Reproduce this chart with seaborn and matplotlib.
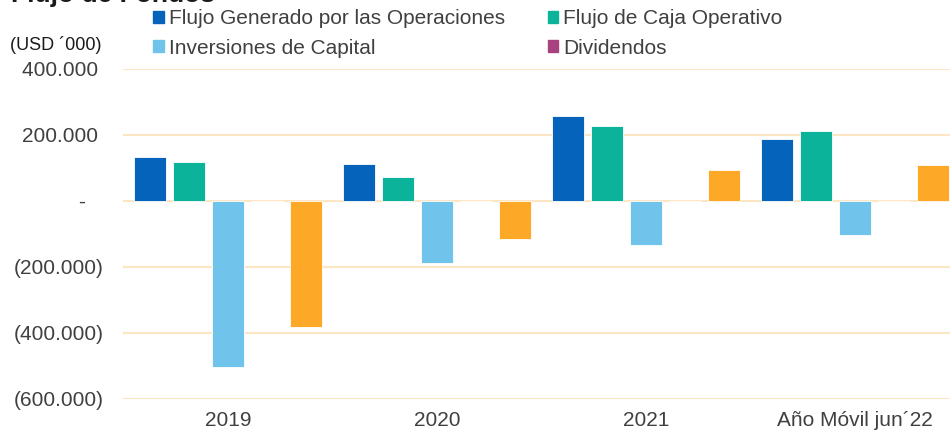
import pandas as pd
import matplotlib.pyplot as plt
import seaborn as sns
from matplotlib.patches import Patch
from matplotlib.ticker import FuncFormatter

# data (USD '000)
periodos = ["2019", "2020", "2021", "Año Móvil jun´22"]
series = ["Flujo Generado por las Operaciones", "Flujo de Caja Operativo",
          "Inversiones de Capital", "Dividendos", "Flujo Libre"]
flujo_generado = [133000, 112000, 257000, 188000]
flujo_caja_operativo = [117000, 71000, 228000, 211000]
inversiones_capital = [-503000, -189000, -135000, -105000]
dividendos = [0, 0, 0, 0]
flujo_libre = [-384000, -116000, 93000, 107000]
colores = ["#0563BB", "#0BB39A", "#70C3EA", "#A9437F", "#FDA827"]

valores = [flujo_generado, flujo_caja_operativo, inversiones_capital, dividendos, flujo_libre]
rows = []
for s, vals in zip(series, valores):
    for p, v in zip(periodos, vals):
        rows.append({"Periodo": p, "Serie": s, "Valor": v})
df = pd.DataFrame(rows)

sns.set_style("white")
plt.rcParams["font.family"] = ["Liberation Sans", "DejaVu Sans"]

fig = plt.figure(figsize=(9.5, 4.38), dpi=100)
ax = fig.add_axes([0.1295, 0.0897, 0.8705, 0.7533])

sns.barplot(data=df, x="Periodo", y="Valor", hue="Serie", order=periodos,
            hue_order=series, palette=colores, saturation=1, width=0.933,
            gap=0.2, legend=False, ax=ax, edgecolor="white", linewidth=0.6)

ax.set_ylim(-600000, 400000)
ax.set_yticks([-600000, -400000, -200000, 0, 200000, 400000])
ax.set_xlim(-0.502, 3.455)


def fmt(v, pos):
    if v == 0:
        return "-   "
    txt = f"{abs(v):,.0f}".replace(",", ".")
    if v < 0:
        return "(" + txt + ")"
    return txt + " "


ax.yaxis.set_major_formatter(FuncFormatter(fmt))
ax.grid(axis="y", color="#FCE6C4", linewidth=1.5)
ax.set_axisbelow(True)
for sp in ax.spines.values():
    sp.set_visible(False)
ax.tick_params(axis="both", length=0, labelsize=15, colors="#404040")
ax.tick_params(axis="y", pad=14)
ax.tick_params(axis="x", pad=9)
ax.set_xlabel("")
ax.set_ylabel("")

# legend filled row by row
idx = [0, 2, 1, 3]
handles = [Patch(color=colores[i]) for i in idx]
labels = [series[i] for i in idx]
fig.legend(handles, labels, ncol=2, frameon=False, fontsize=15,
           loc="upper left", bbox_to_anchor=(0.146, 1.012),
           handlelength=0.5, handleheight=0.5, handletextpad=0.25,
           columnspacing=2.05, labelspacing=0.5, labelcolor="#404040",
           borderpad=0.2)

fig.text(0.012, 0.996, "Flujo de Fondos", fontsize=19, fontweight="bold",
         va="baseline", ha="left", color="#1a1a1a")
fig.text(0.011, 0.897, "(USD ´000)", fontsize=13, va="center", ha="left",
         color="#1a1a1a")

plt.savefig("out.png", dpi=100)
